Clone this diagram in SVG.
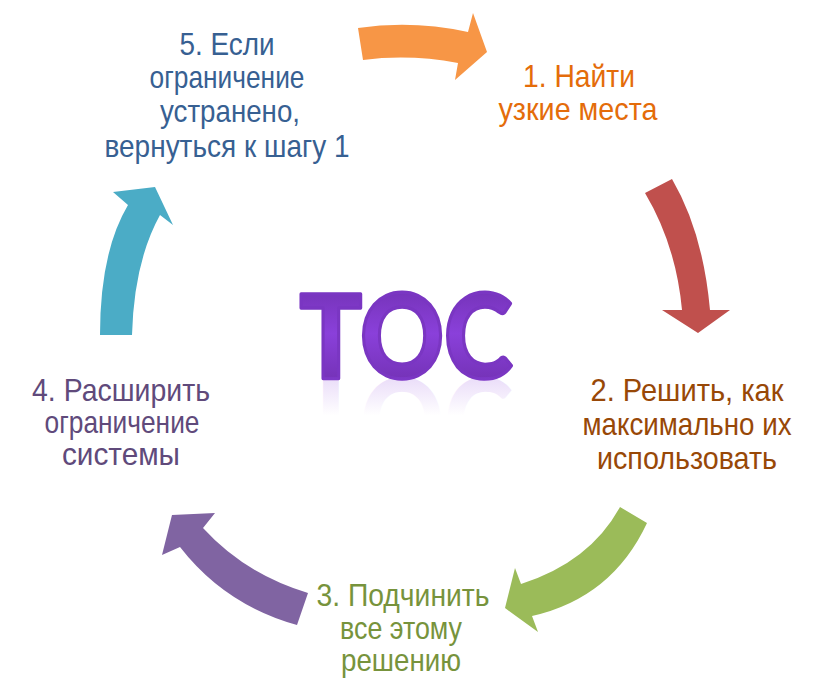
<svg xmlns="http://www.w3.org/2000/svg" width="814" height="694" viewBox="0 0 814 694">
<defs>
<linearGradient id="tocGrad" x1="0" y1="0" x2="0" y2="1">
<stop offset="0" stop-color="#6A2CA6"/>
<stop offset="0.5" stop-color="#8A40DA"/>
<stop offset="1" stop-color="#6A2CA6"/>
</linearGradient>
<linearGradient id="reflGrad" x1="0" y1="0" x2="0" y2="1">
<stop offset="0" stop-color="#8C42DC" stop-opacity="0"/>
<stop offset="0.55" stop-color="#8C42DC" stop-opacity="0"/>
<stop offset="1" stop-color="#8C42DC" stop-opacity="0.3"/>
</linearGradient>
<text id="tocText" class="toc" x="406" y="378" textLength="213" lengthAdjust="spacingAndGlyphs">TOC</text>
</defs>
<style>
.lbl{font-family:"Liberation Sans Narrow","Liberation Sans",Arial,sans-serif;font-size:32px;text-anchor:middle}
.toc{font-family:Lato,"Open Sans","Liberation Sans",sans-serif;font-weight:900;font-size:116px;text-anchor:middle;stroke-width:3.5;stroke-linejoin:round}
</style>
<rect width="814" height="694" fill="#ffffff"/>
<g id="connectors">
<path id="arrow-1-2" d="M645,193 L672,179 Q703,232 710,310 L730,310 L698,333 L662,310 L682,310 Q676,245 645,193 Z" fill="#C0504D"/>
<path id="arrow-2-3" d="M620,507 L647,523 Q612,598 532,616 L538,632 L505,608 L515,568 L521,584 Q590,562 620,507 Z" fill="#9BBB59"/>
<path id="arrow-3-4" d="M308,593 Q245,574 203,528 L215,513 L172,515 L162,555 L180,547 Q225,605 297,625 Z" fill="#8064A2"/>
<path id="arrow-4-5" d="M100,335 Q100,252 128,205 L113,192 L155,187 L173,225 L160,215 Q134,262 132,335 Z" fill="#4BACC6"/>
<path id="arrow-5-1" d="M358,28 Q413,20 468,32 L473,13 L487,52 L455,80 L458,63 Q410,54 363,60 Z" fill="#F79646"/>
</g>
<g id="center-toc">
<use href="#tocText" fill="url(#tocGrad)" stroke="#7A36C2"/>
<use href="#tocText" transform="translate(0,756) scale(1,-1)" fill="url(#reflGrad)"/>
</g>
<g id="step-1" fill="#E46C0A">
<text class="lbl" x="579" y="87" textLength="112" lengthAdjust="spacingAndGlyphs">1. Найти</text>
<text class="lbl" x="578" y="120" textLength="159" lengthAdjust="spacingAndGlyphs">узкие места</text>
</g>
<g id="step-2" fill="#984807">
<text class="lbl" x="687" y="401" textLength="193" lengthAdjust="spacingAndGlyphs">2. Решить, как</text>
<text class="lbl" x="687" y="435" textLength="209" lengthAdjust="spacingAndGlyphs">максимально их</text>
<text class="lbl" x="687" y="469" textLength="180" lengthAdjust="spacingAndGlyphs">использовать</text>
</g>
<g id="step-3" fill="#77933C">
<text class="lbl" x="403" y="606" textLength="173" lengthAdjust="spacingAndGlyphs">3. Подчинить</text>
<text class="lbl" x="401" y="639" textLength="122" lengthAdjust="spacingAndGlyphs">все этому</text>
<text class="lbl" x="401" y="671" textLength="120" lengthAdjust="spacingAndGlyphs">решению</text>
</g>
<g id="step-4" fill="#604A7B">
<text class="lbl" x="121" y="401" textLength="178" lengthAdjust="spacingAndGlyphs">4. Расширить</text>
<text class="lbl" x="122" y="433" textLength="155" lengthAdjust="spacingAndGlyphs">ограничение</text>
<text class="lbl" x="121" y="465" textLength="118" lengthAdjust="spacingAndGlyphs">системы</text>
</g>
<g id="step-5" fill="#376092">
<text class="lbl" x="227" y="55" textLength="95" lengthAdjust="spacingAndGlyphs">5. Если</text>
<text class="lbl" x="227" y="88" textLength="155" lengthAdjust="spacingAndGlyphs">ограничение</text>
<text class="lbl" x="230" y="122" textLength="140" lengthAdjust="spacingAndGlyphs">устранено,</text>
<text class="lbl" x="227" y="157" textLength="245" lengthAdjust="spacingAndGlyphs">вернуться к шагу 1</text>
</g>
</svg>
